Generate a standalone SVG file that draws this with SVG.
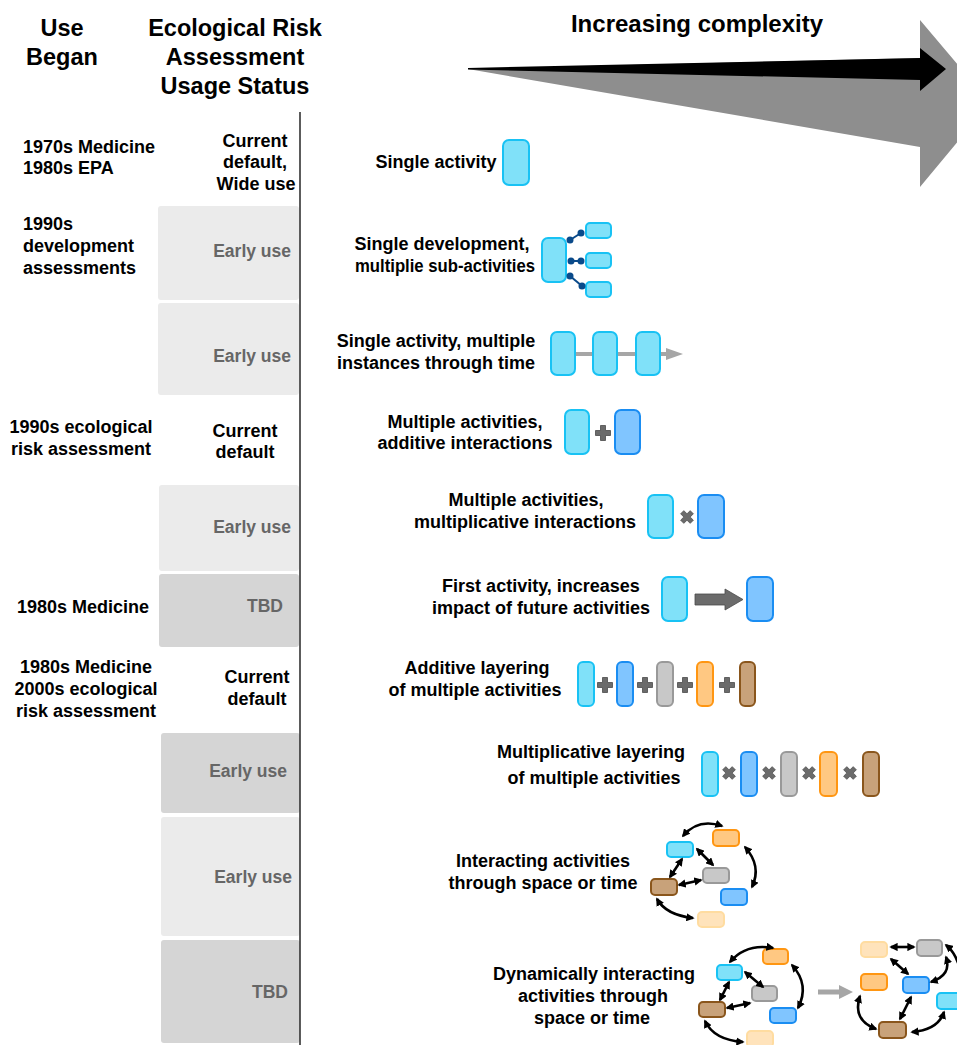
<svg xmlns="http://www.w3.org/2000/svg" width="957" height="1045" viewBox="0 0 957 1045">
  <style>
    text { font-family: "Liberation Sans", Arial, sans-serif; font-weight: bold; fill: #000; }
    .hd { font-size: 23.5px; text-anchor: middle; }
    .lb { font-size: 18px; text-anchor: middle; }
    .lt { font-size: 18px; }
    .st { font-size: 17.5px; fill: #666; text-anchor: end; }
    .band-l { fill: #ebebeb; }
    .band-d { fill: #d5d5d5; }
    .a1 { fill: #80e1f9; stroke: #18c2f4; stroke-width: 2; }
    .a2 { fill: #80c5ff; stroke: #1a8df2; stroke-width: 2; }
    .a3 { fill: #c8c8c8; stroke: #999; stroke-width: 2; }
    .a4 { fill: #ffc882; stroke: #ff9612; stroke-width: 2; }
    .a5 { fill: #c8a27a; stroke: #8a561c; stroke-width: 2; }
    .a6 { fill: #ffe3bb; stroke: #ffdca0; stroke-width: 2; }
    .op { fill: #6b6b6b; stroke: #4a4a4a; stroke-width: 0.8; }
    .link { fill: none; stroke: #0a4a8a; stroke-width: 2; }
    .dot { fill: #0a4a8a; }
    .bi { fill: none; stroke: #000; stroke-width: 2.6; marker-start: url(#ah); marker-end: url(#ah); }
  </style>
  <defs>
    <marker id="ah" viewBox="0 0 10 10" refX="8" refY="5" markerWidth="3.2" markerHeight="3.2" orient="auto-start-reverse" markerUnits="strokeWidth">
      <path d="M0,0 L10,5 L0,10 z" fill="#000"/>
    </marker>
    <path id="plus" d="M-2.5,-7.5 H2.5 V-2.5 H7.5 V2.5 H2.5 V7.5 H-2.5 V2.5 H-7.5 V-2.5 H-2.5 Z"/>
  </defs>

  <!-- column headings -->
  <g id="headings">
    <text class="hd" x="62" y="36">Use</text>
    <text class="hd" x="62" y="65">Began</text>
    <text class="hd" x="235" y="36">Ecological Risk</text>
    <text class="hd" x="235" y="65">Assessment</text>
    <text class="hd" x="235" y="94">Usage Status</text>
    <text class="hd" x="697" y="32" style="font-size:24px">Increasing complexity</text>
  </g>

  <!-- complexity arrow -->
  <g id="complexity-arrow">
    <polygon points="468,69 920,58 920,20 990,103 920,187 920,147" fill="#8e8e8e"/>
    <polygon points="468,68 920,58 920,48 946,69 920,91 920,80 468,69.5" fill="#000"/>
  </g>

  <!-- status bands -->
  <g id="bands">
    <rect class="band-l" x="158" y="206" width="141" height="94" rx="3"/>
    <rect class="band-l" x="158" y="303" width="141" height="92" rx="3"/>
    <rect class="band-l" x="159" y="485" width="140" height="86" rx="3"/>
    <rect class="band-d" x="159" y="574" width="140" height="73" rx="3"/>
    <rect class="band-d" x="161" y="733" width="139" height="80" rx="3"/>
    <rect class="band-l" x="161" y="817" width="139" height="119" rx="3"/>
    <rect class="band-d" x="161" y="940" width="139" height="103" rx="3"/>
  </g>

  <line x1="300" y1="112" x2="300" y2="1045" stroke="#333" stroke-width="1.6"/>

  <!-- row 1 -->
  <g id="row1">
    <text class="lt" x="23" y="153">1970s Medicine</text>
    <text class="lt" x="23" y="174">1980s EPA</text>
    <text class="lb" x="255" y="147">Current</text>
    <text class="lb" x="255" y="168">default,</text>
    <text class="lb" x="256" y="190">Wide use</text>
    <text class="lb" x="436" y="168">Single activity</text>
    <rect class="a1" x="503" y="140" width="26" height="45" rx="6"/>
  </g>

  <!-- row 2 -->
  <g id="row2">
    <text class="lt" x="23" y="230">1990s</text>
    <text class="lt" x="23" y="252">development</text>
    <text class="lt" x="23" y="274">assessments</text>
    <text class="st" x="291" y="257">Early use</text>
    <text class="lb" x="442" y="250">Single development,</text>
    <text class="lb" x="445" y="272" textLength="180" lengthAdjust="spacingAndGlyphs">multiplie sub-activities</text>
    <rect class="a1" x="542" y="238" width="24" height="44" rx="6"/>
    <rect class="a1" x="586" y="223" width="25" height="15" rx="4"/>
    <rect class="a1" x="586" y="253" width="25" height="15" rx="4"/>
    <rect class="a1" x="586" y="282" width="25" height="15" rx="4"/>
    <line class="link" x1="570" y1="240" x2="581" y2="233"/>
    <line class="link" x1="571" y1="261" x2="581" y2="261"/>
    <line class="link" x1="570" y1="276" x2="582" y2="286"/>
    <circle class="dot" cx="570" cy="240" r="3.5"/>
    <circle class="dot" cx="581" cy="233" r="3.5"/>
    <circle class="dot" cx="571" cy="261" r="3.5"/>
    <circle class="dot" cx="581" cy="261" r="3.5"/>
    <circle class="dot" cx="570" cy="276" r="3.5"/>
    <circle class="dot" cx="582" cy="286" r="3.5"/>
  </g>

  <!-- row 3 -->
  <g id="row3">
    <text class="st" x="291" y="362">Early use</text>
    <text class="lb" x="436" y="347">Single activity, multiple</text>
    <text class="lb" x="436" y="369">instances through time</text>
    <line x1="570" y1="354" x2="668" y2="354" stroke="#a6a6a6" stroke-width="4"/>
    <polygon points="666,348 683,354 666,360" fill="#a6a6a6"/>
    <rect class="a1" x="551" y="332" width="24" height="43" rx="6"/>
    <rect class="a1" x="593" y="332" width="24" height="43" rx="6"/>
    <rect class="a1" x="636" y="332" width="24" height="43" rx="6"/>
  </g>

  <!-- row 4 -->
  <g id="row4">
    <text class="lb" x="81" y="433">1990s ecological</text>
    <text class="lb" x="81" y="455">risk assessment</text>
    <text class="lb" x="245" y="437">Current</text>
    <text class="lb" x="245" y="458">default</text>
    <text class="lb" x="465" y="428">Multiple activities,</text>
    <text class="lb" x="465" y="449">additive interactions</text>
    <rect class="a1" x="565" y="410" width="24" height="44" rx="6"/>
    <rect class="a2" x="615" y="410" width="25" height="44" rx="6"/>
    <use href="#plus" class="op" transform="translate(603,433)"/>
  </g>

  <!-- row 5 -->
  <g id="row5">
    <text class="st" x="291" y="533">Early use</text>
    <text class="lb" x="526" y="506">Multiple activities,</text>
    <text class="lb" x="525" y="528">multiplicative interactions</text>
    <rect class="a1" x="648" y="495" width="25" height="43" rx="6"/>
    <rect class="a2" x="698" y="495" width="26" height="43" rx="6"/>
    <use href="#plus" class="op" transform="translate(687,517) rotate(45) scale(0.9)"/>
  </g>

  <!-- row 6 -->
  <g id="row6">
    <text class="lb" x="83" y="613">1980s Medicine</text>
    <text class="st" x="283" y="612">TBD</text>
    <text class="lb" x="541" y="592">First activity, increases</text>
    <text class="lb" x="541" y="614">impact of future activities</text>
    <rect class="a1" x="662" y="577" width="25" height="44" rx="6"/>
    <rect class="a2" x="747" y="577" width="26" height="44" rx="6"/>
    <polygon class="op" points="695,594 725,594 725,589 743,599.5 725,610 725,605 695,605"/>
  </g>

  <!-- row 7 -->
  <g id="row7">
    <text class="lb" x="86" y="673">1980s Medicine</text>
    <text class="lb" x="86" y="695">2000s ecological</text>
    <text class="lb" x="86" y="717">risk assessment</text>
    <text class="lb" x="257" y="683">Current</text>
    <text class="lb" x="257" y="705">default</text>
    <text class="lb" x="477" y="674">Additive layering</text>
    <text class="lb" x="475" y="696">of multiple activities</text>
    <rect class="a1" x="578" y="662" width="16" height="44" rx="5"/>
    <rect class="a2" x="617" y="662" width="16" height="44" rx="5"/>
    <rect class="a3" x="657" y="662" width="16" height="44" rx="5"/>
    <rect class="a4" x="697" y="662" width="16" height="44" rx="5"/>
    <rect class="a5" x="740" y="662" width="15" height="44" rx="5"/>
    <use href="#plus" class="op" transform="translate(605,685)"/>
    <use href="#plus" class="op" transform="translate(645,685)"/>
    <use href="#plus" class="op" transform="translate(685,685)"/>
    <use href="#plus" class="op" transform="translate(727,685)"/>
  </g>

  <!-- row 8 -->
  <g id="row8">
    <text class="st" x="287" y="777">Early use</text>
    <text class="lb" x="591" y="758">Multiplicative layering</text>
    <text class="lb" x="594" y="784">of multiple activities</text>
    <rect class="a1" x="702" y="752" width="16" height="44" rx="5"/>
    <rect class="a2" x="741" y="752" width="16" height="44" rx="5"/>
    <rect class="a3" x="781" y="752" width="16" height="44" rx="5"/>
    <rect class="a4" x="820" y="752" width="17" height="44" rx="5"/>
    <rect class="a5" x="863" y="752" width="16" height="44" rx="5"/>
    <use href="#plus" class="op" transform="translate(729,773) rotate(45) scale(0.9)"/>
    <use href="#plus" class="op" transform="translate(769,773) rotate(45) scale(0.9)"/>
    <use href="#plus" class="op" transform="translate(809,773) rotate(45) scale(0.9)"/>
    <use href="#plus" class="op" transform="translate(850,773) rotate(45) scale(0.9)"/>
  </g>

  <!-- row 9 -->
  <g id="row9">
    <text class="st" x="292" y="883">Early use</text>
    <text class="lb" x="543" y="867">Interacting activities</text>
    <text class="lb" x="543" y="889">through space or time</text>
    <rect class="a1" x="667" y="842" width="26" height="15" rx="4"/>
    <rect class="a4" x="713" y="830" width="26" height="16" rx="4"/>
    <rect class="a3" x="703" y="868" width="26" height="15" rx="4"/>
    <rect class="a5" x="651" y="879" width="26" height="16" rx="4"/>
    <rect class="a2" x="721" y="889" width="26" height="16" rx="4"/>
    <rect class="a6" x="698" y="912" width="26" height="15" rx="4"/>
  </g>

  <!-- row 10 -->
  <g id="row10">
    <text class="st" x="288" y="998">TBD</text>
    <text class="lb" x="594" y="980">Dynamically interacting</text>
    <text class="lb" x="593" y="1002">activities through</text>
    <text class="lb" x="592" y="1024">space or time</text>
    <rect class="a1" x="717" y="965" width="25" height="15" rx="4"/>
    <rect class="a4" x="763" y="949" width="25" height="15" rx="4"/>
    <rect class="a3" x="752" y="986" width="25" height="15" rx="4"/>
    <rect class="a5" x="699" y="1002" width="26" height="15" rx="4"/>
    <rect class="a2" x="770" y="1008" width="26" height="15" rx="4"/>
    <rect class="a6" x="747" y="1031" width="26" height="16" rx="4"/>
    <rect class="a6" x="861" y="942" width="26" height="15" rx="4"/>
    <rect class="a3" x="917" y="940" width="25" height="16" rx="4"/>
    <rect class="a4" x="861" y="974" width="26" height="16" rx="4"/>
    <rect class="a2" x="903" y="977" width="26" height="16" rx="4"/>
    <rect class="a1" x="937" y="993" width="30" height="16" rx="4"/>
    <rect class="a5" x="879" y="1022" width="27" height="16" rx="4"/>
  </g>

  <!-- interaction connectors -->
  <g id="connectors">
    <path class="bi" d="M683,836 Q698,818 722,826"/>
    <path class="bi" d="M745,847 Q762,866 752,887"/>
    <path class="bi" d="M697,849 L713,865"/>
    <path class="bi" d="M682,859 L670,877"/>
    <path class="bi" d="M679,885 L701,880"/>
    <path class="bi" d="M657,899 Q666,915 693,918"/>

    <path class="bi" d="M730,962 Q746,943 773,948"/>
    <path class="bi" d="M792,965 Q810,985 798,1008"/>
    <path class="bi" d="M745,972 L763,987"/>
    <path class="bi" d="M729,982 L720,1000"/>
    <path class="bi" d="M727,1008 L750,1003"/>
    <path class="bi" d="M705,1021 Q714,1040 743,1042"/>

    <path class="bi" d="M891,947 L914,947"/>
    <path class="bi" d="M891,959 L908,974"/>
    <path class="bi" d="M946,957 Q952,975 931,982"/>
    <path class="bi" d="M946,945 Q962,958 962,990"/>
    <path class="bi" d="M911,997 L900,1019"/>
    <path class="bi" d="M860,996 Q852,1020 876,1029"/>
    <path class="bi" d="M912,1032 Q938,1030 944,1012"/>

    <line x1="818" y1="992" x2="842" y2="992" stroke="#a6a6a6" stroke-width="5"/>
    <polygon points="839,985 853,992 839,999" fill="#a6a6a6"/>
  </g>
</svg>
